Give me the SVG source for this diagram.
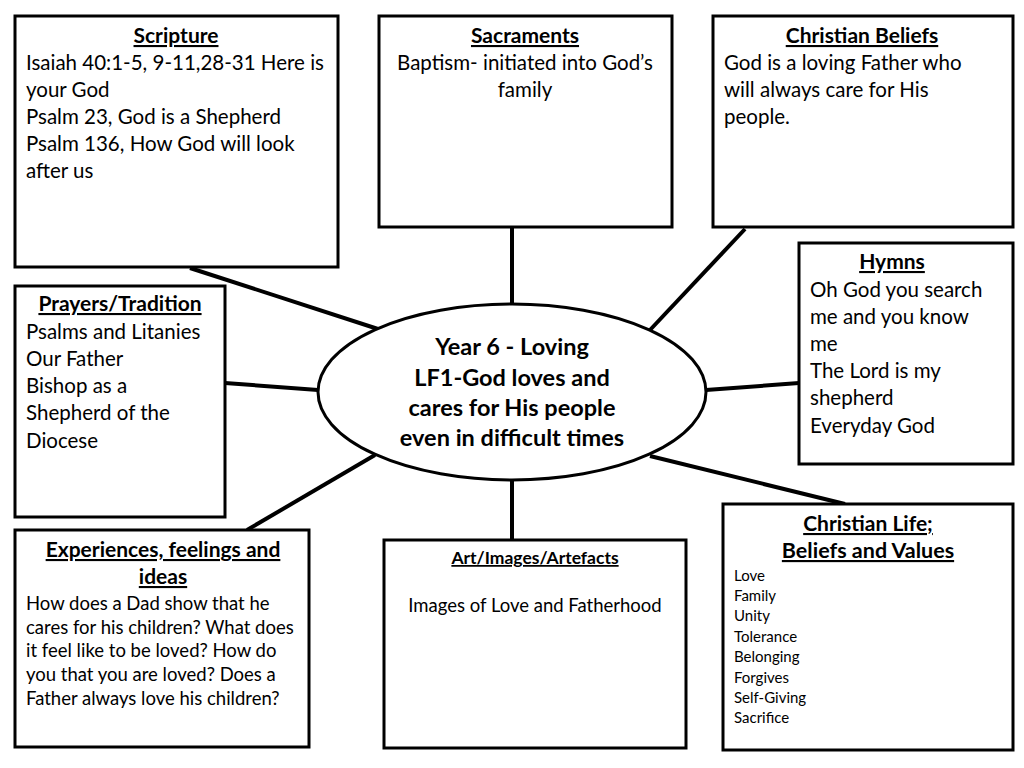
<svg xmlns="http://www.w3.org/2000/svg" width="1024" height="768" viewBox="0 0 1024 768">
<style>
.box{fill:#fff;stroke:#000;stroke-width:3}
.con{stroke:#000;stroke-width:4;fill:none}
text{font-family:Lato,"Open Sans","Liberation Sans",sans-serif;fill:#000}
.t{font-size:21px;font-weight:bold;text-decoration:underline;text-anchor:middle}
.b{font-size:20.5px}
.s{font-size:18.5px}
.l{font-size:15px}
.m{text-anchor:middle}
.c{font-size:23.5px;font-weight:bold;text-anchor:middle}
</style>
<rect width="1024" height="768" fill="#fff"/>
<g id="connectors">
<line class="con" x1="190" y1="268" x2="378" y2="329"/>
<line class="con" x1="512" y1="228" x2="512" y2="304"/>
<line class="con" x1="745" y1="229" x2="650" y2="330"/>
<line class="con" x1="799" y1="383" x2="706" y2="390"/>
<line class="con" x1="225" y1="383" x2="318" y2="390"/>
<line class="con" x1="247" y1="530" x2="375" y2="455"/>
<line class="con" x1="512" y1="480" x2="512" y2="540"/>
<line class="con" x1="650" y1="456" x2="845" y2="504"/>
</g>
<g id="scripture">
<rect class="box" x="15" y="16" width="323" height="251"/>
<text class="t" x="176" y="43">Scripture</text>
<text class="b" x="26" y="70">Isaiah 40:1-5, 9-11,28-31 Here is</text>
<text class="b" x="26" y="97">your God</text>
<text class="b" x="26" y="124">Psalm 23, God is a Shepherd</text>
<text class="b" x="26" y="151">Psalm 136, How God will look</text>
<text class="b" x="26" y="178">after us</text>
</g>
<g id="sacraments">
<rect class="box" x="379" y="16" width="293" height="211"/>
<text class="t" x="525" y="43">Sacraments</text>
<text class="b m" x="525" y="70">Baptism- initiated into God’s</text>
<text class="b m" x="525" y="97">family</text>
</g>
<g id="christian-beliefs">
<rect class="box" x="713" y="16" width="300" height="211"/>
<text class="t" x="862" y="43">Christian Beliefs</text>
<text class="b" x="724" y="70">God is a loving Father who</text>
<text class="b" x="724" y="97">will always care for His</text>
<text class="b" x="724" y="124">people.</text>
</g>
<g id="hymns">
<rect class="box" x="799" y="243" width="214" height="221"/>
<text class="t" x="892" y="269">Hymns</text>
<text class="b" x="810" y="297">Oh God you search</text>
<text class="b" x="810" y="324">me and you know</text>
<text class="b" x="810" y="351">me</text>
<text class="b" x="810" y="378">The Lord is my</text>
<text class="b" x="810" y="405">shepherd</text>
<text class="b" x="810" y="433">Everyday God</text>
</g>
<g id="prayers">
<rect class="box" x="15" y="286" width="210" height="231"/>
<text class="t" x="120" y="311">Prayers/Tradition</text>
<text class="b" x="26" y="339">Psalms and Litanies</text>
<text class="b" x="26" y="366">Our Father</text>
<text class="b" x="26" y="393">Bishop as a</text>
<text class="b" x="26" y="420">Shepherd of the</text>
<text class="b" x="26" y="448">Diocese</text>
</g>
<g id="centre">
<ellipse cx="512" cy="392" rx="194" ry="88" fill="#fff" stroke="#000" stroke-width="3"/>
<text class="c" x="512" y="355">Year 6 - Loving</text>
<text class="c" x="512" y="386">LF1-God loves and</text>
<text class="c" x="512" y="416">cares for His people</text>
<text class="c" x="512" y="446">even in difficult times</text>
</g>
<g id="experiences">
<rect class="box" x="15" y="530" width="294" height="217"/>
<text class="t" x="163" y="557">Experiences, feelings and</text>
<text class="t" x="163" y="584">ideas</text>
<text class="s" x="26" y="610">How does a Dad show that he</text>
<text class="s" x="26" y="634">cares for his children? What does</text>
<text class="s" x="26" y="657">it feel like to be loved? How do</text>
<text class="s" x="26" y="681">you that you are loved? Does a</text>
<text class="s" x="26" y="705">Father always love his children?</text>
</g>
<g id="art">
<rect class="box" x="384" y="540" width="302" height="208"/>
<text class="t" x="535" y="564" style="font-size:17.5px">Art/Images/Artefacts</text>
<text class="s m" x="535" y="612">Images of Love and Fatherhood</text>
</g>
<g id="christian-life">
<rect class="box" x="723" y="504" width="290" height="246"/>
<text class="t" x="868" y="531">Christian Life;</text>
<text class="t" x="868" y="558" style="font-size:21.5px">Beliefs and Values</text>
<text class="l" x="734" y="581">Love</text>
<text class="l" x="734" y="601">Family</text>
<text class="l" x="734" y="621">Unity</text>
<text class="l" x="734" y="642">Tolerance</text>
<text class="l" x="734" y="662">Belonging</text>
<text class="l" x="734" y="683">Forgives</text>
<text class="l" x="734" y="703">Self-Giving</text>
<text class="l" x="734" y="723">Sacrifice</text>
</g>
</svg>
